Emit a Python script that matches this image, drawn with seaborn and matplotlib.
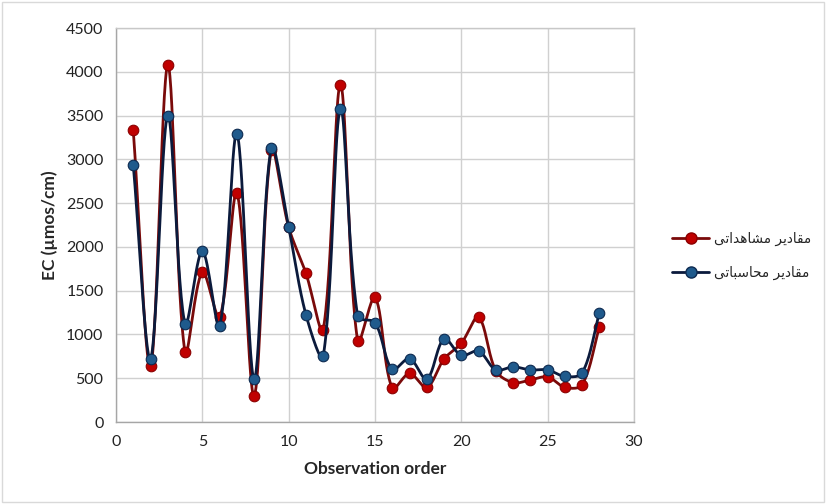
import numpy as np
import matplotlib
matplotlib.use('Agg')
import matplotlib.pyplot as plt
import seaborn as sns
from matplotlib.lines import Line2D
from matplotlib.patches import Rectangle

order = list(range(1, 29))
observed = [3330, 635, 4075, 795, 1715, 1195, 2615, 300, 3105, 2225,
            1700, 1055, 3850, 920, 1425, 385, 555, 395, 720, 900,
            1195, 585, 450, 480, 515, 395, 425, 1090]
calculated = [2935, 725, 3500, 1120, 1955, 1095, 3295, 490, 3135, 2225,
              1225, 750, 3575, 1205, 1135, 600, 725, 490, 950, 760,
              810, 595, 630, 595, 595, 520, 560, 1250]

# persian labels, shaped by hand (presentation forms, visual order)
lab_obs = '\uFEE3\uFED8\uFE8E\uFEA9\uFBFE\uFEAE' + ' ' + '\uFEE3\uFEB8\uFE8E\uFEEB\uFEAA\uFE8D\uFE97\uFBFD'
lab_calc = '\uFEE3\uFED8\uFE8E\uFEA9\uFBFE\uFEAE' + ' ' + '\uFEE3\uFEA4\uFE8E\uFEB3\uFE92\uFE8E\uFE97\uFBFD'
lab_obs = lab_obs[::-1]
lab_calc = lab_calc[::-1]

# pixel scale of the plot area, used only to shape the smoothed curve
SX, SY = 518 / 30, 394 / 4500


def smooth(x, y, n=30):
    # excel-like smoothed line: bezier with chord-length weighted tangents
    x = np.asarray(x, float)
    y = np.asarray(y, float)
    px = np.concatenate([[x[0]], x, [x[-1]]])
    py = np.concatenate([[y[0]], y, [y[-1]]])
    pts = np.column_stack([px * SX, py * SY])
    t = np.linspace(0, 1, n, endpoint=False)
    out = []
    for i in range(len(x) - 1):
        p0, p1, p2, p3 = pts[i], pts[i + 1], pts[i + 2], pts[i + 3]
        d01 = np.hypot(*(p1 - p0))
        d12 = np.hypot(*(p2 - p1))
        d23 = np.hypot(*(p3 - p2))
        c1 = p1 + (p2 - p0) * d12 / (d01 + d12) / 3 if d01 + d12 > 0 else p1
        c2 = p2 - (p3 - p1) * d12 / (d12 + d23) / 3 if d12 + d23 > 0 else p2
        b = ((1 - t) ** 3)[:, None] * p1 + (3 * (1 - t) ** 2 * t)[:, None] * c1 \
            + (3 * (1 - t) * t ** 2)[:, None] * c2 + (t ** 3)[:, None] * p2
        out.append(b)
    out.append(pts[-2][None, :])
    out = np.vstack(out)
    return out[:, 0] / SX, out[:, 1] / SY


sns.set_style('whitegrid')
plt.rcParams['font.family'] = ['Lato', 'DejaVu Sans']

fig = plt.figure(figsize=(8.26, 5.04), dpi=100)
ax = fig.add_axes([116 / 826, 1 - 422 / 504, 518 / 826, 394 / 504])

series = [
    (observed, '#7a0a0a', '#c00000', '#8b0000', lab_obs),
    (calculated, '#0b1a3c', '#1f5a8c', '#0d2a50', lab_calc),
]
handles = []
for k, (vals, lc, mc, ec, lab) in enumerate(series):
    sx, sy = smooth(order, vals)
    ax.plot(sx, sy, color=lc, lw=2.0, zorder=3 + 2 * k, solid_capstyle='round')
    sns.scatterplot(x=order, y=vals, ax=ax, color=mc, edgecolor=ec,
                    linewidth=0.8, s=58, zorder=4 + 2 * k, legend=False)
    handles.append(Line2D([0], [0], color=lc, lw=2.0, marker='o', markersize=8,
                          markerfacecolor=mc, markeredgecolor=ec, label=lab))

ax.set_xlim(0, 30)
ax.set_ylim(0, 4500)
ax.set_xticks(range(0, 31, 5))
ax.set_yticks(range(0, 4501, 500))
ax.grid(True, color='#d0d0d0', lw=1.0)
for s in ax.spines.values():
    s.set_color('#c8c8c8')
    s.set_linewidth(1.0)
ax.spines['left'].set_color('#a6a6a6')
ax.spines['bottom'].set_color('#a6a6a6')
ax.tick_params(length=0, labelsize=11.5, colors='#222222', pad=9)
ax.set_xlabel('Observation order', fontsize=12.5, fontweight='bold', labelpad=9)
ax.set_ylabel('EC (µmos/cm)', fontsize=12.5, fontweight='bold', labelpad=6)

leg = fig.legend(handles=handles, loc='center left', bbox_to_anchor=(672 / 826, 0.492),
                 frameon=False, handlelength=2.75, labelspacing=1.45,
                 handletextpad=0.3, borderpad=0, borderaxespad=0,
                 prop={'family': ['DejaVu Sans'], 'size': 9.8})

fig.patches.append(Rectangle((0.003, 0.004), 0.994, 0.992, transform=fig.transFigure,
                             fill=False, edgecolor='#d9d9d9', lw=1.0))

fig.savefig('out.png', dpi=100)
